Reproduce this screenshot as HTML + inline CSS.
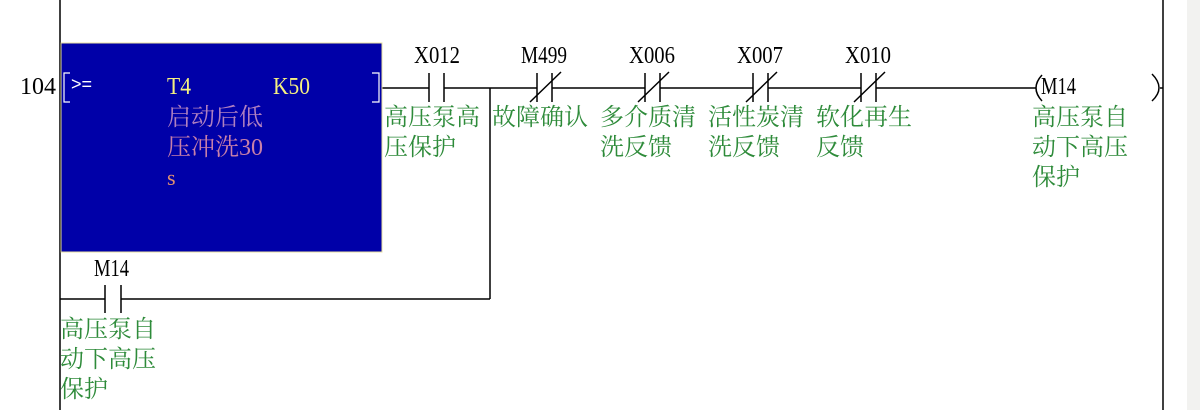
<!DOCTYPE html>
<html><head><meta charset="utf-8"><style>
html,body{margin:0;padding:0;background:#fff;}
svg{display:block;}
text{font-family:"Liberation Serif","Noto Serif CJK SC",serif;}
.g{fill:#2e8b3a;font-size:24px;}
.k{fill:#000;font-size:24px;}
</style></head><body>
<svg width="1200" height="410" viewBox="0 0 1200 410" xmlns="http://www.w3.org/2000/svg">
<rect x="1187" y="0" width="13" height="410" fill="#f2f2f0"/>
<g stroke="#000" stroke-width="1.5" fill="none">
<line x1="60" y1="0" x2="60" y2="410"/>
<line x1="1163" y1="0" x2="1163" y2="410"/>
<line x1="382" y1="88" x2="429" y2="88"/>
<line x1="444" y1="88" x2="537" y2="88"/>
<line x1="552" y1="88" x2="645" y2="88"/>
<line x1="660" y1="88" x2="753" y2="88"/>
<line x1="768" y1="88" x2="861" y2="88"/>
<line x1="876" y1="88" x2="1036" y2="88"/>
<line x1="1160" y1="88" x2="1163" y2="88"/>
<line x1="429" y1="73" x2="429" y2="102"/><line x1="444" y1="73" x2="444" y2="102"/>
<line x1="537" y1="73" x2="537" y2="102"/><line x1="552" y1="73" x2="552" y2="102"/><line x1="530" y1="102" x2="561" y2="72"/>
<line x1="645" y1="73" x2="645" y2="102"/><line x1="660" y1="73" x2="660" y2="102"/><line x1="638" y1="102" x2="669" y2="72"/>
<line x1="753" y1="73" x2="753" y2="102"/><line x1="768" y1="73" x2="768" y2="102"/><line x1="746" y1="102" x2="777" y2="72"/>
<line x1="861" y1="73" x2="861" y2="102"/><line x1="876" y1="73" x2="876" y2="102"/><line x1="854" y1="102" x2="885" y2="72"/>
<path d="M1042 75 Q1030 88 1042 101"/>
<path d="M1152 74 Q1166 88 1152 101"/>
<line x1="490" y1="88" x2="490" y2="299"/>
<line x1="60" y1="299" x2="105" y2="299"/>
<line x1="121" y1="299" x2="490" y2="299"/>
<line x1="105" y1="285" x2="105" y2="313"/><line x1="121" y1="285" x2="121" y2="313"/>
</g>
<rect x="61" y="43" width="321" height="209" fill="#0000a8" stroke="#e8e0a0" stroke-width="1"/>
<g stroke="#fff" stroke-width="1.2" fill="none">
<path d="M70 73 H64 V102 H70"/>
<path d="M372 73 H379 V102 H372"/>
</g>
<text x="20" y="94" class="k" textLength="36" lengthAdjust="spacingAndGlyphs">104</text>
<text x="71" y="90" fill="#fff" font-size="18" style="font-family:'Liberation Sans',sans-serif">&gt;=</text>
<text x="167" y="94" fill="#f5f080" font-size="24" textLength="24" lengthAdjust="spacingAndGlyphs">T4</text>
<text x="273" y="94" fill="#f5f080" font-size="24" textLength="37" lengthAdjust="spacingAndGlyphs">K50</text>
<text x="167" y="125" fill="#b080c0" font-size="24">启动后低</text>
<text x="167" y="155" fill="#c880a8" font-size="24">压冲洗30</text>
<text x="167" y="185" fill="#e09070" font-size="22">s</text>
<text x="414" y="63" class="k" textLength="46" lengthAdjust="spacingAndGlyphs">X012</text>
<text x="521" y="63" class="k" textLength="46" lengthAdjust="spacingAndGlyphs">M499</text>
<text x="629" y="63" class="k" textLength="46" lengthAdjust="spacingAndGlyphs">X006</text>
<text x="737" y="63" class="k" textLength="46" lengthAdjust="spacingAndGlyphs">X007</text>
<text x="845" y="63" class="k" textLength="46" lengthAdjust="spacingAndGlyphs">X010</text>
<text x="1041" y="94" class="k" textLength="35" lengthAdjust="spacingAndGlyphs">M14</text>
<text x="94" y="276" class="k" textLength="35" lengthAdjust="spacingAndGlyphs">M14</text>
<text x="384" y="125" class="g">高压泵高</text><text x="384" y="155" class="g">压保护</text>
<text x="492" y="125" class="g">故障确认</text>
<text x="600" y="125" class="g">多介质清</text><text x="600" y="155" class="g">洗反馈</text>
<text x="708" y="125" class="g">活性炭清</text><text x="708" y="155" class="g">洗反馈</text>
<text x="816" y="125" class="g">软化再生</text><text x="816" y="155" class="g">反馈</text>
<text x="1032" y="125" class="g">高压泵自</text><text x="1032" y="155" class="g">动下高压</text><text x="1032" y="185" class="g">保护</text>
<text x="60" y="337" class="g">高压泵自</text><text x="60" y="367" class="g">动下高压</text><text x="60" y="397" class="g">保护</text>
</svg>
</body></html>
